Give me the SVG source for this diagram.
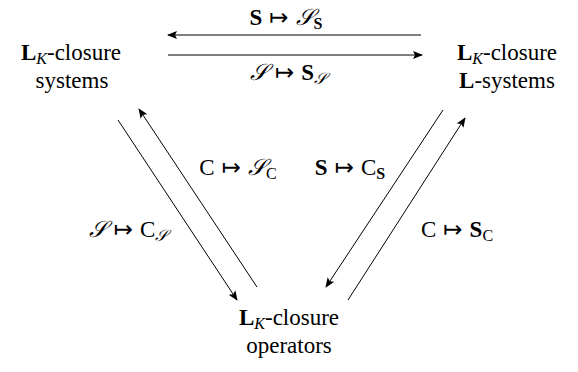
<svg xmlns="http://www.w3.org/2000/svg" width="578" height="372" viewBox="0 0 578 372">
<style>
text{font-family:"Liberation Serif","DejaVu Serif",serif;font-size:23px;fill:#000;text-anchor:middle}
.b{font-weight:bold}
.i{font-style:italic}
.sub{font-size:16px}
.m{font-family:"DejaVu Sans ExtraLight","DejaVu Sans","Liberation Serif",serif;font-size:23px}
.cal{font-family:"DejaVu Serif","Liberation Serif",serif;font-style:italic}
.ln{stroke:#000;stroke-width:1;fill:none;marker-end:url(#ah)}
</style>
<defs>
<marker id="ah" viewBox="0 0 10 8" refX="9" refY="4" markerWidth="10" markerHeight="8" markerUnits="userSpaceOnUse" orient="auto">
<path d="M0,0 L10,4 L0,8 L2,4 Z" fill="#000"/>
</marker>
</defs>
<g id="connectors">
<line class="ln" x1="421" y1="35" x2="168" y2="35"/>
<line class="ln" x1="168" y1="55" x2="422" y2="55"/>
<line class="ln" x1="118" y1="120" x2="237" y2="300"/>
<line class="ln" x1="257" y1="287" x2="139" y2="109"/>
<line class="ln" x1="443" y1="110" x2="326" y2="287"/>
<line class="ln" x1="348" y1="300" x2="465" y2="118"/>
<text x="286" y="25"><tspan class="b">S</tspan><tspan class="m" dx="7">↦</tspan><tspan class="cal" dx="7">𝒮</tspan><tspan class="sub b" dy="4">S</tspan></text>
<text x="288" y="80"><tspan class="cal">𝒮</tspan><tspan class="m" dx="7">↦</tspan><tspan class="b" dx="7">S</tspan><tspan class="sub cal" dy="4">𝒮</tspan></text>
<text x="238" y="175">C<tspan class="m" dx="7">↦</tspan><tspan class="cal" dx="7">𝒮</tspan><tspan class="sub" dy="4">C</tspan></text>
<text x="350" y="175"><tspan class="b">S</tspan><tspan class="m" dx="7">↦</tspan><tspan dx="7">C</tspan><tspan class="sub b" dy="4">S</tspan></text>
<text x="128" y="237"><tspan class="cal">𝒮</tspan><tspan class="m" dx="7">↦</tspan><tspan dx="7">C</tspan><tspan class="sub cal" dy="4">𝒮</tspan></text>
<text x="457" y="237">C<tspan class="m" dx="7">↦</tspan><tspan class="b" dx="7">S</tspan><tspan class="sub" dy="4">C</tspan></text>
</g>
<g id="node-systems">
<text x="71" y="60"><tspan class="b">L</tspan><tspan class="sub i" dy="4">K</tspan><tspan dy="-4">-closure</tspan></text>
<text x="72" y="88">systems</text>
</g>
<g id="node-lsystems">
<text x="507" y="60"><tspan class="b">L</tspan><tspan class="sub i" dy="4">K</tspan><tspan dy="-4">-closure</tspan></text>
<text x="507" y="88"><tspan class="b">L</tspan>-systems</text>
</g>
<g id="node-operators">
<text x="289" y="325"><tspan class="b">L</tspan><tspan class="sub i" dy="4">K</tspan><tspan dy="-4">-closure</tspan></text>
<text x="289" y="353">operators</text>
</g>
</svg>
